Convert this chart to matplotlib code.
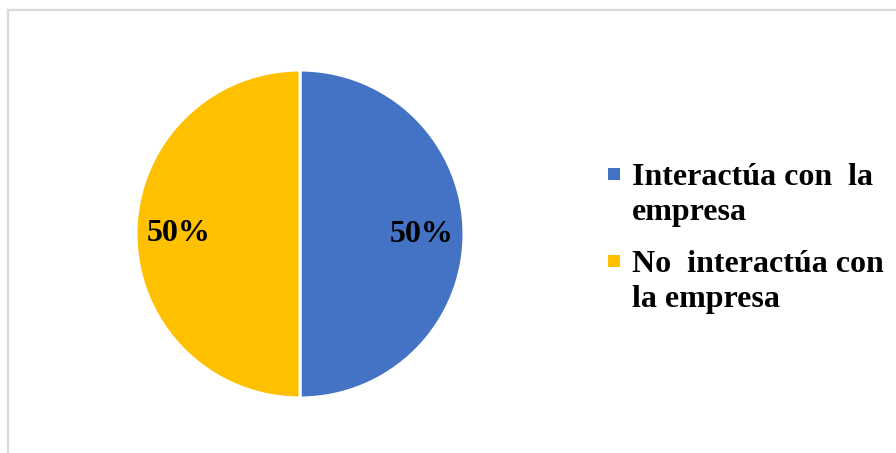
import matplotlib.pyplot as plt
from matplotlib.lines import Line2D
from matplotlib.patches import Rectangle

categories = ["Interactúa con  la\nempresa", "No  interactúa con\nla empresa"]
values = [50, 50]
colors = ["#4472C4", "#FFC000"]

W, H = 896, 453
fig = plt.figure(figsize=(W / 100, H / 100), dpi=100)
fig.patch.set_facecolor("white")

serif = ["Liberation Serif", "DejaVu Serif"]

# chart frame (top and left edges)
fig.add_artist(Line2D([7.5 / W, 1.0], [1 - 9.5 / H, 1 - 9.5 / H], color="#D9D9D9", lw=1.6))
fig.add_artist(Line2D([7.5 / W, 7.5 / W], [1 - 9.5 / H, 0.0], color="#D9D9D9", lw=1.6))

# pie: centre (300, 234) px, radius 164 px
cx, cy, r = 300, 234, 164
ax = fig.add_axes([(cx - r) / W, 1 - (cy + r) / H, 2 * r / W, 2 * r / H])
wedges, texts, autotexts = ax.pie(
    values, colors=colors, startangle=90, counterclock=False,
    autopct="%1.0f%%", pctdistance=0.74,
    wedgeprops=dict(edgecolor="white", linewidth=2.2),
    textprops=dict(fontsize=23, fontweight="bold", family=serif, color="black"),
)
ax.set_xlim(-1, 1)
ax.set_ylim(-1, 1)
ax.set_aspect("equal")
ax.axis("off")

# legend drawn beside the pie
first_baselines = [185, 272]
line_step = 35
for label, color, base in zip(categories, colors, first_baselines):
    fig.add_artist(Rectangle((608 / W, 1 - 180 / H + (185 - base) / H), 12 / W, 12 / H,
                             transform=fig.transFigure, facecolor=color, edgecolor="none"))
    for i, line in enumerate(label.split("\n")):
        fig.text(632 / W, 1 - (base + i * line_step) / H, line, fontsize=23,
                 fontweight="bold", family=serif, va="baseline", ha="left")

fig.savefig("out.png", dpi=100)
